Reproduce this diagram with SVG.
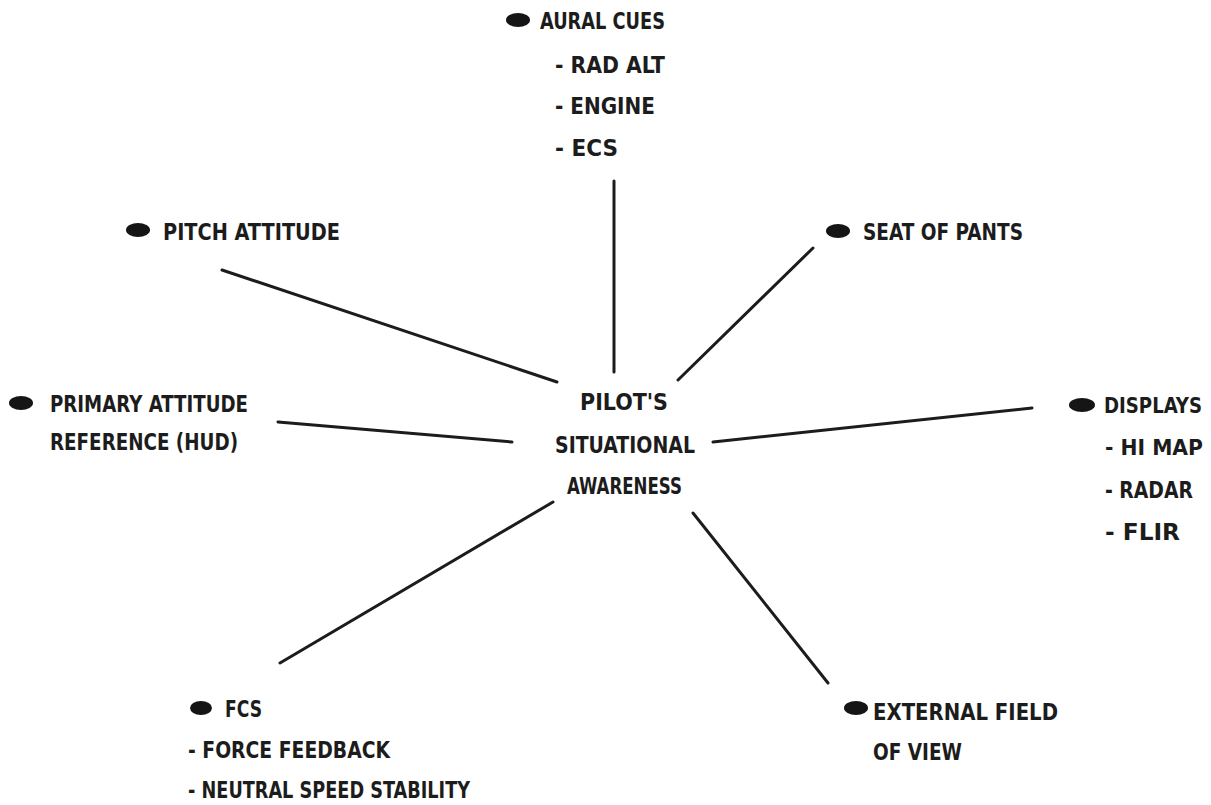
<svg xmlns="http://www.w3.org/2000/svg" width="1211" height="805" viewBox="0 0 1211 805">
  <style>
    .lbl { font-family: "Liberation Sans Narrow", "DejaVu Sans Condensed", "Liberation Sans", sans-serif; font-weight: bold; font-size: 23px; fill: #1c1c1c; }
    .edge { font-size: 21px; }
    .bullet { fill: #151515; }
    .link { stroke: #1c1c1c; stroke-width: 3; stroke-linecap: round; fill: none; }
  </style>
  <rect width="1211" height="805" fill="#ffffff"/>

  <!-- spokes from the central concept -->
  <g id="connectors">
    <line class="link" x1="614" y1="181" x2="614" y2="372"/>
    <line class="link" x1="222" y1="270" x2="557" y2="382"/>
    <line class="link" x1="813" y1="248" x2="678" y2="380"/>
    <line class="link" x1="278" y1="422" x2="512" y2="442"/>
    <line class="link" x1="713" y1="442" x2="1032" y2="408"/>
    <line class="link" x1="280" y1="663" x2="553" y2="502"/>
    <line class="link" x1="693" y1="513" x2="828" y2="683"/>
  </g>

  <g id="center">
    <text class="lbl" x="580" y="410" textLength="88" lengthAdjust="spacingAndGlyphs">PILOT'S</text>
    <text class="lbl" x="555" y="453" textLength="140" lengthAdjust="spacingAndGlyphs">SITUATIONAL</text>
    <text class="lbl" x="567" y="494" textLength="115" lengthAdjust="spacingAndGlyphs">AWARENESS</text>
  </g>

  <g id="aural-cues">
    <ellipse class="bullet" cx="518" cy="20" rx="12" ry="7"/>
    <text class="lbl" x="540" y="29" textLength="125" lengthAdjust="spacingAndGlyphs">AURAL CUES</text>
    <text class="lbl" x="555" y="73" textLength="110" lengthAdjust="spacingAndGlyphs">- RAD ALT</text>
    <text class="lbl" x="555" y="114" textLength="100" lengthAdjust="spacingAndGlyphs">- ENGINE</text>
    <text class="lbl" x="555" y="156" textLength="63" lengthAdjust="spacingAndGlyphs">- ECS</text>
  </g>

  <g id="pitch-attitude">
    <ellipse class="bullet" cx="138" cy="230" rx="12" ry="7"/>
    <text class="lbl" x="163" y="240" textLength="177" lengthAdjust="spacingAndGlyphs">PITCH ATTITUDE</text>
  </g>

  <g id="seat-of-pants">
    <ellipse class="bullet" cx="838" cy="231" rx="12" ry="7"/>
    <text class="lbl" x="863" y="240" textLength="160" lengthAdjust="spacingAndGlyphs">SEAT OF PANTS</text>
  </g>

  <g id="primary-attitude">
    <ellipse class="bullet" cx="21" cy="403" rx="12" ry="7"/>
    <text class="lbl" x="50" y="412" textLength="198" lengthAdjust="spacingAndGlyphs">PRIMARY ATTITUDE</text>
    <text class="lbl" x="50" y="450" textLength="188" lengthAdjust="spacingAndGlyphs">REFERENCE (HUD)</text>
  </g>

  <g id="displays">
    <ellipse class="bullet" cx="1082" cy="405" rx="13" ry="7"/>
    <text class="lbl edge" x="1104" y="413" textLength="98" lengthAdjust="spacingAndGlyphs">DISPLAYS</text>
    <text class="lbl edge" x="1105" y="455" textLength="98" lengthAdjust="spacingAndGlyphs">- HI MAP</text>
    <text class="lbl" x="1105" y="498" textLength="88" lengthAdjust="spacingAndGlyphs">- RADAR</text>
    <text class="lbl" x="1105" y="540" textLength="75" lengthAdjust="spacingAndGlyphs">- FLIR</text>
  </g>

  <g id="fcs">
    <ellipse class="bullet" cx="201" cy="708" rx="11" ry="7"/>
    <text class="lbl" x="225" y="717" textLength="37" lengthAdjust="spacingAndGlyphs">FCS</text>
    <text class="lbl" x="188" y="758" textLength="202" lengthAdjust="spacingAndGlyphs">- FORCE FEEDBACK</text>
    <text class="lbl" x="188" y="798" textLength="282" lengthAdjust="spacingAndGlyphs">- NEUTRAL SPEED STABILITY</text>
  </g>

  <g id="external-view">
    <ellipse class="bullet" cx="856" cy="708" rx="12" ry="7"/>
    <text class="lbl" x="873" y="720" textLength="185" lengthAdjust="spacingAndGlyphs">EXTERNAL FIELD</text>
    <text class="lbl" x="873" y="760" textLength="89" lengthAdjust="spacingAndGlyphs">OF VIEW</text>
  </g>
</svg>
